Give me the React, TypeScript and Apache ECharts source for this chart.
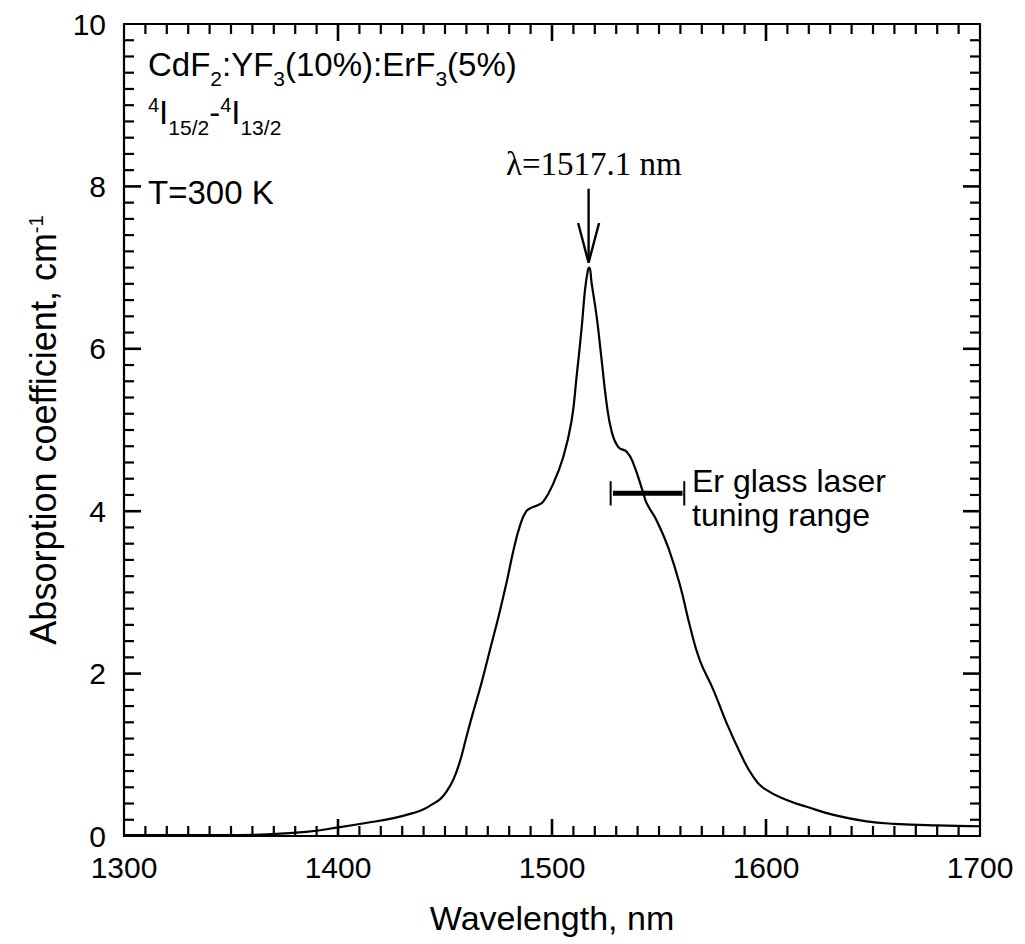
import React, { useEffect, useRef } from "react";
import * as echarts from "echarts";

// Absorption spectrum of CdF2:YF3(10%):ErF3(5%), 4I15/2 -> 4I13/2, T = 300 K
const wavelength = [
  1300, 1320, 1345, 1367, 1385, 1401, 1413, 1426, 1436, 1440, 1444, 1448, 1451, 1454,
  1457, 1460, 1463, 1467, 1471, 1475, 1479, 1482, 1485, 1488, 1491, 1493, 1496, 1500.6,
  1505.3, 1509.2, 1511.5, 1513.9, 1515.4, 1516.8, 1517.5, 1518.5, 1520.9, 1523.2,
  1525.5, 1527.9, 1531, 1535, 1538, 1542.7, 1544.2, 1549, 1554.5, 1560, 1564.5, 1569,
  1575.4, 1581.6, 1588, 1594, 1600, 1610, 1619, 1631.5, 1647, 1660, 1680, 1700,
];
const absorption = [
  0.01, 0.01, 0.01, 0.02, 0.05, 0.11, 0.16, 0.22, 0.29, 0.33, 0.39, 0.46, 0.56, 0.7,
  0.92, 1.22, 1.51, 1.88, 2.29, 2.7, 3.15, 3.52, 3.82, 4.0, 4.05, 4.07, 4.12, 4.34,
  4.67, 5.12, 5.66, 6.27, 6.72, 6.97, 7.0, 6.81, 6.39, 5.86,
  5.33, 4.98, 4.79, 4.73, 4.59, 4.22, 4.1, 3.88, 3.54, 3.07, 2.58, 2.17,
  1.8, 1.39, 1.02, 0.73, 0.57, 0.44, 0.36, 0.26, 0.18, 0.15, 0.13, 0.12,
];

// annotation geometry (data coordinates)
const peakWavelength = 1517.1;
const arrowShaft = [[1517.1, 7.97], [1517.1, 7.08]];
const arrowHead = [[1512.2, 7.55], [1517.1, 7.06], [1522.0, 7.55]];
const tuningRange = [[1528.5, 4.22], [1561, 4.22]];
const tuningCapLeft = [[1527.4, 4.37], [1527.4, 4.07]];
const tuningCapRight = [[1561.8, 4.37], [1561.8, 4.07]];

const xTicks = [1300, 1400, 1500, 1600, 1700];
const yTicks = [0, 2, 4, 6, 8, 10];
const xMinorStep = 10;
const yMinorStep = 0.2;

export default function App() {
  const ref = useRef<HTMLDivElement>(null);
  useEffect(() => {
    if (!ref.current) return;
    const chart = echarts.init(ref.current, null, { renderer: "svg" });
    const font = "'Liberation Sans', Arial, Helvetica, sans-serif";
    const black = "#000";
    const xMin = xTicks[0];
    const xMax = xTicks[xTicks.length - 1];
    const yMin = yTicks[0];
    const yMax = yTicks[yTicks.length - 1];

    // tick marks on all four sides (side: 0 bottom, 1 top, 2 left, 3 right), placed via the axis scales
    const tickItems: number[][] = [];
    const nx = Math.round((xMax - xMin) / xMinorStep);
    for (let k = 1; k < nx; k++) {
      const v = xMin + k * xMinorStep;
      const major = k % 10 === 0 ? 1 : 0;
      tickItems.push([v, yMin, 0, major]);
      tickItems.push([v, yMax, 1, major]);
    }
    const ny = Math.round((yMax - yMin) / yMinorStep);
    for (let k = 1; k < ny; k++) {
      const v = +(yMin + k * yMinorStep).toFixed(4);
      const major = k % 10 === 0 ? 1 : 0;
      tickItems.push([xMin, v, 2, major]);
      tickItems.push([xMax, v, 3, major]);
    }

    const majorAxis = (pos: string, showLabel: boolean, margin: number) => ({
      type: "value",
      position: pos,
      axisLine: { show: true, onZero: false, lineStyle: { color: black, width: 2.2 } },
      axisTick: { show: false },
      minorTick: { show: false },
      splitLine: { show: false },
      axisLabel: showLabel
        ? {
            show: true,
            color: black,
            fontSize: 30,
            fontFamily: font,
            margin,
            formatter: (v: number) => String(v),
          }
        : { show: false },
    });
    const lineSeries = (data: number[][], width: number) => ({
      type: "line",
      data,
      symbol: "none",
      lineStyle: { color: black, width },
      z: 5,
    });
    const rich = {
      sub: { fontSize: 21, fontFamily: font, color: black, padding: [28, 0, 0, 0] },
      sub2: { fontSize: 21, fontFamily: font, color: black, padding: [31, 0, 0, 0] },
      sup: { fontSize: 20, fontFamily: font, color: black, padding: [0, 0, 15, 0] },
    };
    chart.setOption({
      animation: false,
      backgroundColor: "#fff",
      grid: { left: 124, right: 45, top: 24, bottom: 108, containLabel: false },
      xAxis: [
        {
          ...majorAxis("bottom", true, 16),
          min: xMin,
          max: xMax,
          interval: 100,
          name: "Wavelength, nm",
          nameLocation: "middle",
          nameGap: 65,
          nameTextStyle: { color: black, fontSize: 34, fontFamily: font },
        },
        { ...majorAxis("top", false, 0), min: xMin, max: xMax, interval: 100 },
      ],
      yAxis: [
        {
          ...majorAxis("left", true, 18),
          min: yMin,
          max: yMax,
          interval: 2,
          name: "Absorption coefficient, cm{sup|-1}",
          nameLocation: "middle",
          nameGap: 58,
          nameRotate: 90,
          nameTextStyle: {
            color: black,
            fontSize: 36,
            fontFamily: font,
            rich: { sup: { fontSize: 20, fontFamily: font, color: black, padding: [0, 0, 16, 0] } },
          },
        },
        { ...majorAxis("right", false, 0), min: yMin, max: yMax, interval: 2 },
      ],
      series: [
        {
          type: "custom",
          clip: false,
          z: 3,
          encode: { x: 0, y: 1 },
          data: tickItems,
          renderItem: (_params: any, api: any) => {
            const side = api.value(2);
            const major = api.value(3) === 1;
            const len = major ? 17 : 10;
            const p = api.coord([api.value(0), api.value(1)]);
            let x2 = p[0];
            let y2 = p[1];
            if (side === 0) y2 = p[1] - len;
            else if (side === 1) y2 = p[1] + len;
            else if (side === 2) x2 = p[0] + len;
            else x2 = p[0] - len;
            return {
              type: "line",
              shape: { x1: p[0], y1: p[1], x2, y2 },
              style: { stroke: "#000", lineWidth: major ? 2.6 : 2.2 },
            };
          },
        },
        {
          ...lineSeries(
            wavelength.map((w, i) => [w, absorption[i]]),
            2.2
          ),
          smooth: 0.45,
        },
        lineSeries(arrowShaft, 2.4),
        lineSeries(arrowHead, 2.4),
        lineSeries(tuningRange, 5),
        lineSeries(tuningCapLeft, 2),
        lineSeries(tuningCapRight, 2),
      ],
      graphic: [
        {
          type: "text",
          x: 148,
          y: 64,
          style: {
            text: "CdF{sub|2}:YF{sub|3}(10%):ErF{sub|3}(5%)",
            fontSize: 33,
            fontFamily: font,
            fill: black,
            verticalAlign: "middle",
            align: "left",
            rich,
          },
        },
        {
          type: "text",
          x: 148,
          y: 112,
          style: {
            text: "{sup|4}I{sub2|15/2}-{sup|4}I{sub2|13/2}",
            fontSize: 33,
            fontFamily: font,
            fill: black,
            verticalAlign: "middle",
            align: "left",
            rich,
          },
        },
        {
          type: "text",
          x: 148,
          y: 192,
          style: {
            text: "T=300 K",
            fontSize: 33,
            fontFamily: font,
            fill: black,
            verticalAlign: "middle",
            align: "left",
          },
        },
        {
          type: "text",
          x: 506,
          y: 164,
          style: {
            text: "λ=" + peakWavelength.toFixed(1) + " nm",
            fontSize: 33,
            fontFamily: "'Liberation Serif', 'Times New Roman', serif",
            fill: black,
            verticalAlign: "middle",
            align: "left",
          },
        },
        {
          type: "text",
          x: 692,
          y: 498,
          style: {
            text: "Er glass laser\ntuning range",
            fontSize: 32,
            lineHeight: 34,
            fontFamily: font,
            fill: black,
            verticalAlign: "middle",
            align: "left",
          },
        },
      ],
    } as any);
    return () => chart.dispose();
  }, []);
  return (
    <div
      ref={ref}
      style={{ position: "absolute", left: 0, top: 0, width: 1025, height: 944, background: "#fff" }}
    />
  );
}
